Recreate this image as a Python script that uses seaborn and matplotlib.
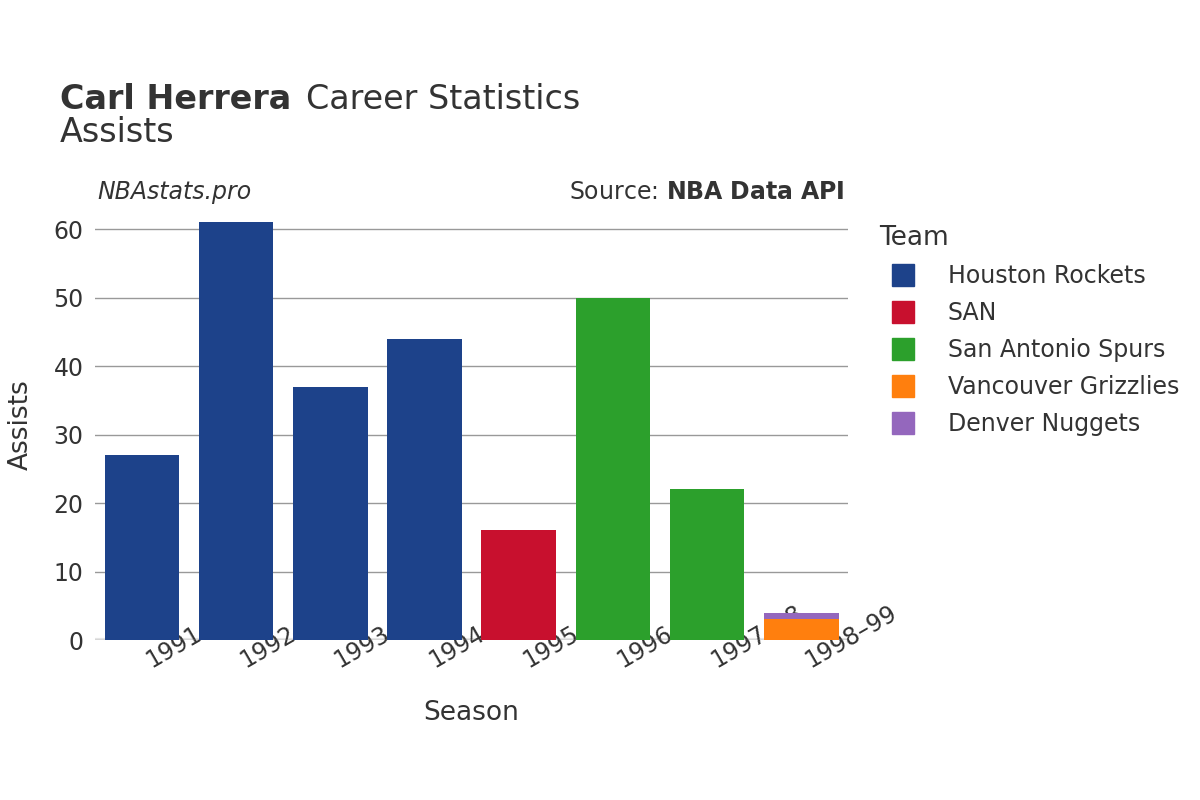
import matplotlib
matplotlib.use("Agg")
import matplotlib.pyplot as plt
import seaborn as sns
import pandas as pd
from matplotlib.lines import Line2D

seasons = ["1991–92","1992–93","1993–94","1994–95","1995–96","1996–97","1997–98","1998–99"]
teams = ["Houston Rockets","Houston Rockets","Houston Rockets","Houston Rockets","SAN","San Antonio Spurs","San Antonio Spurs","Vancouver Grizzlies"]
assists = [27, 61, 37, 44, 16, 50, 22, 3]
extra_season = ["1998–99"]
extra_team = ["Denver Nuggets"]
extra_assists = [1]

team_order = ["Houston Rockets","SAN","San Antonio Spurs","Vancouver Grizzlies","Denver Nuggets"]
colors = {"Houston Rockets":"#1d428a","SAN":"#c8102e","San Antonio Spurs":"#2ca02c",
          "Vancouver Grizzlies":"#ff7f0e","Denver Nuggets":"#9467bd"}

plt.rcParams["font.family"] = "DejaVu Sans"
fig = plt.figure(figsize=(12, 8), dpi=100)
ax = fig.add_axes([0.079, 0.2, 0.628, 0.5375])

df = pd.DataFrame({"Season": seasons, "Team": teams, "Assists": assists})
# stacked: draw total for last season first (Denver on top)
tot = df.copy()
tot_vals = dict(zip(seasons, assists))
for s, v in zip(extra_season, extra_assists):
    tot_vals[s] += v
dtop = pd.DataFrame({"Season": extra_season, "Team": extra_team,
                     "Assists": [tot_vals[s] for s in extra_season]})
sns.barplot(data=dtop, x="Season", y="Assists", hue="Team", order=seasons,
            palette=colors, dodge=False, width=0.79, ax=ax, legend=False, saturation=1)
sns.barplot(data=df, x="Season", y="Assists", hue="Team", order=seasons,
            palette=colors, dodge=False, width=0.79, ax=ax, legend=False, saturation=1)

ax.set_ylim(0, 62.8)
ax.set_xlim(-0.5, 7.5)
ax.set_yticks(range(0, 61, 10))
ax.grid(axis="y", color="#999999", linewidth=1)
ax.set_axisbelow(True)
for sp in ax.spines.values():
    sp.set_visible(False)
ax.axhline(0, color="#e5e5e5", linewidth=3, zorder=0)
ax.tick_params(axis="both", length=0, labelsize=17, colors="#333333", pad=8)
plt.setp(ax.get_xticklabels(), rotation=30, ha="left", rotation_mode="anchor")
ax.set_xlabel("Season", fontsize=19, color="#333333", labelpad=20)
ax.set_ylabel("Assists", fontsize=19, color="#333333", labelpad=14)

fig.text(0.05, 0.876, "Carl Herrera", fontsize=24, fontweight="bold", color="#333333", va="center")
fig.text(0.255, 0.876, "Career Statistics", fontsize=24, color="#333333", va="center")
fig.text(0.05, 0.835, "Assists", fontsize=24, color="#333333", va="center")
fig.text(0.081, 0.76, "NBAstats.pro", fontsize=17, style="italic", color="#333333", va="center")
fig.text(0.704, 0.76, "Source: $\\bf{NBA\\ Data\\ API}$", fontsize=17, color="#333333", va="center", ha="right")

handles = [Line2D([0], [0], marker="s", linestyle="", markersize=16, markerfacecolor=colors[t],
                  markeredgecolor=colors[t]) for t in team_order]
leg = fig.legend(handles, team_order, loc="upper left", bbox_to_anchor=(0.715, 0.745),
                 frameon=False, fontsize=17, title="Team", title_fontsize=19,
                 labelspacing=0.55, handletextpad=0.9, alignment="left")
for t in leg.get_texts():
    t.set_color("#333333")
leg.get_title().set_color("#333333")

fig.savefig("out.png", dpi=100)
